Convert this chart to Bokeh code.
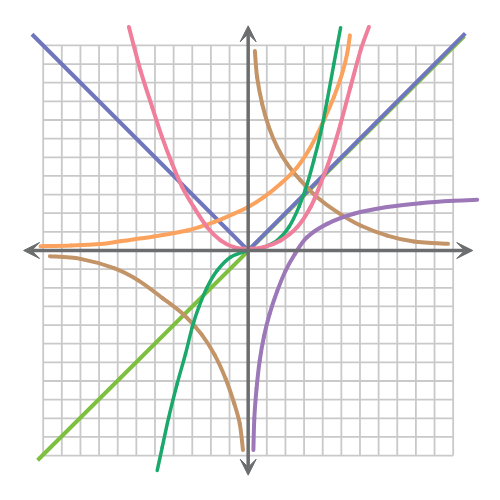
import numpy as np
from bokeh.plotting import figure
from bokeh.models import Arrow, VeeHead, ColumnDataSource
from bokeh.embed import file_html
from bokeh.resources import INLINE

# Function curves on a square grid (one grid cell = one unit)
grid_ticks = list(range(-11, 12))

abs_x = [-11.6, 0.0, 11.65]
abs_y = [11.6, 0.0, 11.65]

line_x = [-11.3, 11.6]
line_y = [-11.25, 11.5]

parab_x = [-6.40, -5.78, -5.15, -4.62, -4.08, -3.54, -2.92, -2.20, -1.48, -0.77, 0.0,
           0.84, 1.74, 2.63, 3.35, 3.88, 4.42, 4.96, 5.49, 6.03, 6.48]
parab_y = [11.99, 9.66, 7.69, 6.08, 4.65, 3.40, 2.33, 1.25, 0.54, 0.18, 0.09,
           0.18, 0.54, 1.25, 2.33, 3.58, 5.01, 6.80, 8.77, 10.73, 11.99]

exp_x = [-11.14, -9.5, -7.92, -6.85, -5.06, -3.27, -1.84, -0.77, 0.0, 0.84, 1.74,
         2.63, 3.35, 4.06, 4.60, 5.04, 5.31, 5.46]
exp_y = [0.23, 0.27, 0.35, 0.50, 0.75, 1.07, 1.52, 1.97, 2.33, 2.86, 3.58,
         4.47, 5.55, 6.98, 8.23, 9.48, 10.55, 11.54]

cubic_x = [-4.88, -4.61, -4.26, -3.81, -3.36, -3.00, -2.65, -2.20, -1.66, -0.95, 0.0,
           0.84, 1.56, 2.18, 2.72, 3.17, 3.52, 3.88, 4.24, 4.60, 4.96]
cubic_y = [-11.8, -10.55, -8.94, -7.15, -5.54, -4.11, -3.04, -1.97, -1.07, -0.36, 0.0,
           0.18, 0.54, 1.25, 2.33, 3.58, 4.83, 6.26, 8.05, 10.02, 11.95]

hyp_q1_x = [0.36, 0.48, 0.75, 1.11, 1.56, 2.09, 2.81, 3.70, 4.78, 6.03, 7.46, 8.89, 10.72]
hyp_q1_y = [10.70, 9.30, 7.87, 6.62, 5.55, 4.65, 3.76, 2.86, 2.06, 1.34, 0.80, 0.48, 0.36]

hyp_q3_x = [-10.64, -9.0, -7.2, -5.9, -4.6, -3.45, -2.5, -1.8, -1.2, -0.75, -0.45, -0.28]
hyp_q3_y = [-0.31, -0.45, -0.95, -1.6, -2.55, -3.45, -4.5, -5.6, -6.9, -8.2, -9.3, -10.7]

log_x = [0.28, 0.33, 0.45, 0.62, 0.85, 1.15, 1.55, 2.0, 2.5, 3.17, 4.24, 5.67, 7.46,
         9.25, 11.03, 12.29]
log_y = [-10.7, -9.0, -7.4, -5.9, -4.6, -3.4, -2.2, -1.1, -0.2, 0.72, 1.43, 1.97, 2.33,
         2.54, 2.67, 2.72]


def smooth_segments(xs, ys):
    """Catmull-Rom control points so each curve passes through its points smoothly."""
    x = np.asarray(xs, float)
    y = np.asarray(ys, float)
    xp = np.concatenate([[x[0]], x, [x[-1]]])
    yp = np.concatenate([[y[0]], y, [y[-1]]])
    n = len(x) - 1
    i = np.arange(n) + 1
    return dict(
        x0=xp[i], y0=yp[i], x1=xp[i + 1], y1=yp[i + 1],
        cx0=xp[i] + (xp[i + 1] - xp[i - 1]) / 6, cy0=yp[i] + (yp[i + 1] - yp[i - 1]) / 6,
        cx1=xp[i + 1] - (xp[i + 2] - xp[i]) / 6, cy1=yp[i + 1] - (yp[i + 2] - yp[i]) / 6,
    )


p = figure(width=500, height=500, x_range=(-13.29, 13.54), y_range=(-13.41, 13.41),
           x_axis_location=None, y_axis_location=None, toolbar_location=None,
           output_backend="svg", min_border=0, outline_line_color=None,
           background_fill_color="white", border_fill_color="white")
p.grid.visible = False

# square grid limited to the tick span
g_lo, g_hi = min(grid_ticks), max(grid_ticks)
p.segment(x0=grid_ticks, y0=[g_lo] * len(grid_ticks), x1=grid_ticks, y1=[g_hi] * len(grid_ticks),
          line_color="#c9c9c9", line_width=1.8)
p.segment(x0=[g_lo] * len(grid_ticks), y0=grid_ticks, x1=[g_hi] * len(grid_ticks), y1=grid_ticks,
          line_color="#c9c9c9", line_width=1.8)

axis_color = "#6b6d6e"
axis_ext = 12.05
for xs, ys, xe, ye in [(-axis_ext, 0, axis_ext, 0), (0, -axis_ext, 0, axis_ext)]:
    p.add_layout(Arrow(x_start=xs, y_start=ys, x_end=xe, y_end=ye,
                       line_color=axis_color, line_width=3.5,
                       start=VeeHead(size=16, fill_color=axis_color, line_color=axis_color),
                       end=VeeHead(size=16, fill_color=axis_color, line_color=axis_color)))

# straight graphs
p.line(line_x, line_y, line_color="#7dbf3e", line_width=4)
p.line(abs_x, abs_y, line_color="#6f76bd", line_width=4, line_join="miter")

# curved graphs
curves = [
    (hyp_q1_x, hyp_q1_y, "#c29468", 4),
    (hyp_q3_x, hyp_q3_y, "#c29468", 4),
    (log_x, log_y, "#9c78b8", 4),
    (exp_x, exp_y, "#fba35e", 4),
    (cubic_x, cubic_y, "#1aa86b", 3.5),
    (parab_x, parab_y, "#f07f9c", 4),
]
for xs, ys, color, w in curves:
    src = ColumnDataSource(smooth_segments(xs, ys))
    p.bezier(x0="x0", y0="y0", x1="x1", y1="y1", cx0="cx0", cy0="cy0", cx1="cx1", cy1="cy1",
             source=src, line_color=color, line_width=w, line_cap="round")

open("out.html", "w").write(file_html(p, INLINE))
